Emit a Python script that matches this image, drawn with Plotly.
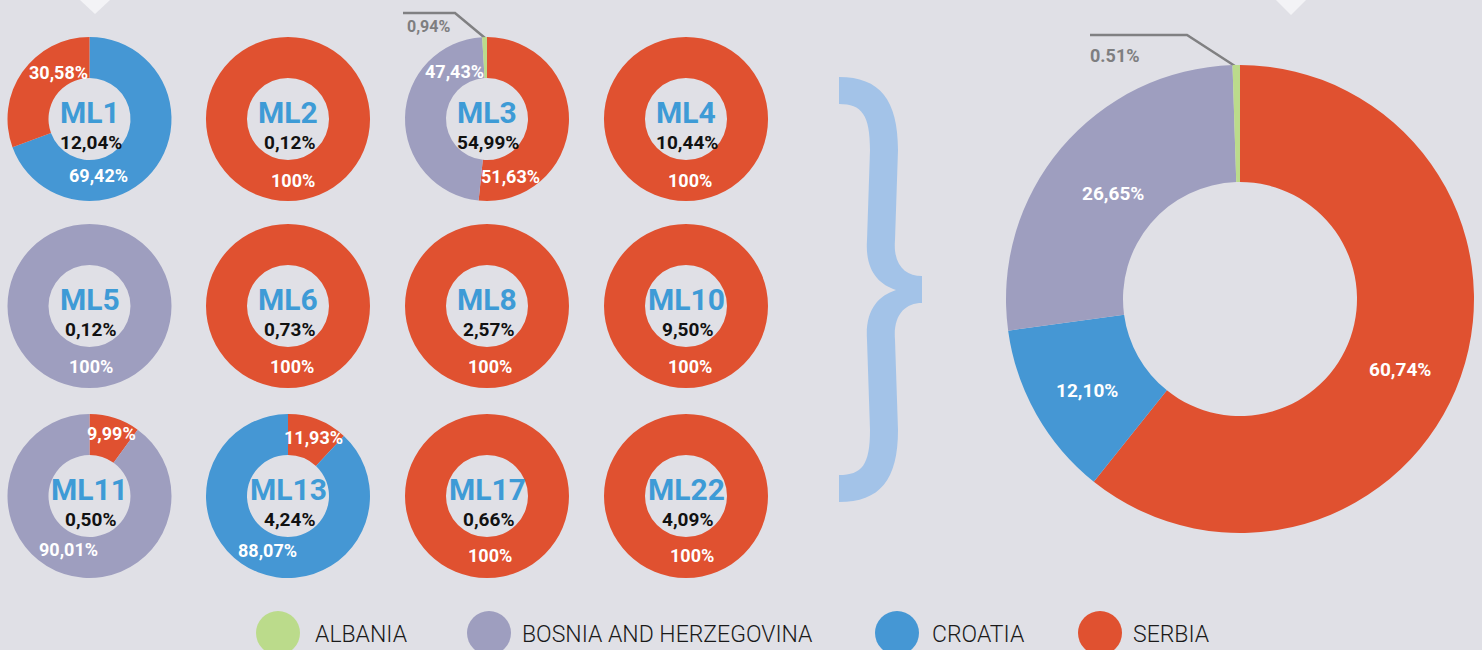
import plotly.graph_objects as go

W, H = 1482, 650

# ---------------- data ----------------
countries = ["ALBANIA", "BOSNIA AND HERZEGOVINA", "CROATIA", "SERBIA"]
country_colors = ["#bbdb8b", "#9e9ebf", "#4597d4", "#e05130"]

ml_names = ["ML1", "ML2", "ML3", "ML4", "ML5", "ML6", "ML8", "ML10",
            "ML11", "ML13", "ML17", "ML22"]
ml_share = [12.04, 0.12, 54.99, 10.44, 0.12, 0.73, 2.57, 9.50,
            0.50, 4.24, 0.66, 4.09]

albania = [0, 0, 0.94, 0, 0, 0, 0, 0, 0, 0, 0, 0]
bosnia = [0, 0, 47.43, 0, 100, 0, 0, 0, 90.01, 0, 0, 0]
croatia = [69.42, 0, 0, 0, 0, 0, 0, 0, 0, 88.07, 0, 0]
serbia = [30.58, 100, 51.63, 100, 0, 100, 100, 100, 9.99, 11.93, 100, 100]

total_values = [0.51, 26.65, 12.10, 60.74]  # Albania, Bosnia, Croatia, Serbia

# ---------------- layout (pixels) ----------------
col_x = [89.5, 288, 487, 686]
row_y = [119, 306, 496]
small_r = 82
big_cx, big_cy, big_r = 1240, 299, 234
default_order = [3, 2, 1, 0]          # clockwise from 12 o'clock: Serbia, Croatia, Bosnia, Albania
pie_order = [[2, 3]] + [default_order] * 11

# label offsets from each pie centre: {(pie, country): (dx, dy)}
label_offsets = {
    (0, 3): (-31.5, -47), (0, 2): (8.5, 56.5),
    (1, 3): (4.5, 61),
    (2, 1): (-33, -48), (2, 3): (23.5, 57.5),
    (3, 3): (3.5, 61),
    (4, 1): (1.5, 60), (5, 3): (4, 60), (6, 3): (3, 60), (7, 3): (4, 60),
    (8, 3): (21.5, -62.5), (8, 1): (-21.5, 53.5),
    (9, 3): (25, -59), (9, 2): (-21, 54.5),
    (10, 3): (2.5, 59), (11, 3): (6, 59),
}
big_label_offsets = {1: (-127, -105.5), 2: (-153.5, 91), 3: (160, 70)}

legend_marker_x = [278, 489, 897, 1100]
legend_text_x = [313, 520, 930, 1131]
legend_y = 633

BG = "#e0e0e6"
TITLE_BLUE = "#3e9bd6"
GREY_TXT = "#7e7e80"
LABEL_FONT = "Roboto"
LEGEND_FONT = "Roboto"


def fmt(v, sep=","):
    if abs(v - 100) < 1e-9:
        return "100%"
    return f"{v:.2f}".replace(".", sep) + "%"


def dom(cx, cy, r):
    return dict(x=[(cx - r) / W, (cx + r) / W],
                y=[1 - (cy + r) / H, 1 - (cy - r) / H])


fig = go.Figure()
annotations = []

series = [albania, bosnia, croatia, serbia]

for i, name in enumerate(ml_names):
    cx = col_x[i % 4]
    cy = row_y[i // 4]
    labels, values, colors = [], [], []
    for c in pie_order[i]:
        v = series[c][i]
        if v > 0:
            labels.append(countries[c])
            values.append(v)
            colors.append(country_colors[c])
    fig.add_trace(go.Pie(
        labels=labels, values=values, hole=0.5, sort=False,
        direction="clockwise", rotation=0,
        marker=dict(colors=colors, line=dict(width=0)),
        textinfo="none", hoverinfo="label+value", showlegend=False,
        domain=dom(cx, cy, small_r), name=name,
    ))
    annotations.append(dict(x=cx, y=cy - 7, text=name, showarrow=False,
                            font=dict(family=LABEL_FONT, size=30, color=TITLE_BLUE, weight="bold")))
    annotations.append(dict(x=cx + 1, y=cy + 23, text=fmt(ml_share[i]), showarrow=False,
                            font=dict(family=LABEL_FONT, size=19, color="#111111", weight="bold")))
    for c in range(4):
        if (i, c) in label_offsets:
            dx, dy = label_offsets[(i, c)]
            annotations.append(dict(x=cx + dx, y=cy + dy, text=fmt(series[c][i]), showarrow=False,
                                    font=dict(family=LABEL_FONT, size=18, color="white", weight="bold")))

# ML3 Albania callout
annotations.append(dict(x=428, y=26, text=fmt(albania[2]), showarrow=False,
                        font=dict(family=LABEL_FONT, size=16, color=GREY_TXT, weight="bold")))

# big pie
labels, values, colors = [], [], []
for c in default_order:
    labels.append(countries[c])
    values.append(total_values[c])
    colors.append(country_colors[c])
fig.add_trace(go.Pie(
    labels=labels, values=values, hole=0.5, sort=False, direction="clockwise", rotation=0,
    marker=dict(colors=colors, line=dict(width=0)), textinfo="none",
    hoverinfo="label+value", showlegend=False, domain=dom(big_cx, big_cy, big_r), name="TOTAL",
))
for c, (dx, dy) in big_label_offsets.items():
    annotations.append(dict(x=big_cx + dx, y=big_cy + dy, text=fmt(total_values[c]), showarrow=False,
                            font=dict(family=LABEL_FONT, size=19, color="white", weight="bold")))
annotations.append(dict(x=1115, y=55, text=fmt(total_values[0], "."), showarrow=False,
                        font=dict(family=LABEL_FONT, size=18, color=GREY_TXT, weight="bold")))

# custom legend
fig.add_trace(go.Scatter(
    x=legend_marker_x, y=[legend_y] * 4, mode="markers",
    marker=dict(size=44, color=country_colors, line=dict(width=0)),
    hoverinfo="skip", showlegend=False, cliponaxis=False,
))
for c in range(4):
    annotations.append(dict(x=legend_text_x[c], y=legend_y + 1, text=countries[c], showarrow=False,
                            xanchor="left",
                            font=dict(family=LEGEND_FONT, size=23, color="#1a1a1a", weight=300)))

for a in annotations:
    a.setdefault("xref", "x")
    a.setdefault("yref", "y")

shapes = [
    # top decorative triangles
    dict(type="path", path="M80,0 L110,0 L95,14 Z", fillcolor="#f3f3f6", line=dict(width=0)),
    dict(type="path", path="M1276,0 L1306,0 L1291,15 Z", fillcolor="#f3f3f6", line=dict(width=0)),
    # leader lines
    dict(type="path", path="M403,13 L455,13 L485,38", line=dict(color="#808082", width=2.5)),
    dict(type="path", path="M1090,35 L1187,35 L1238,68", line=dict(color="#808082", width=2.5)),
    # brace
    dict(type="path",
         path=("M839,77 C880,77 898,100 898,150 L895,240 C893,265 905,276 922,276 "
               "L922,303 C905,303 893,315 895,340 L898,430 C898,480 880,502 839,502 "
               "L839,475 C862,475 870,465 870,430 L867,340 C865,310 878,296 896,290 "
               "C878,284 865,270 867,240 L870,150 C870,115 862,104 839,104 Z"),
         fillcolor="#a3c3e8", line=dict(width=0)),
]
for s in shapes:
    s["xref"] = "x"
    s["yref"] = "y"
    s["layer"] = "below"

fig.update_layout(
    width=W, height=H, margin=dict(l=0, r=0, t=0, b=0),
    paper_bgcolor=BG, plot_bgcolor=BG,
    xaxis=dict(range=[0, W], visible=False, fixedrange=True, domain=[0, 1]),
    yaxis=dict(range=[H, 0], visible=False, fixedrange=True, domain=[0, 1]),
    annotations=annotations, shapes=shapes, showlegend=False,
)

fig.write_html("out.html", config={"displayModeBar": False},
               post_script="document.body.style.margin='0';document.body.style.overflow='hidden';")
